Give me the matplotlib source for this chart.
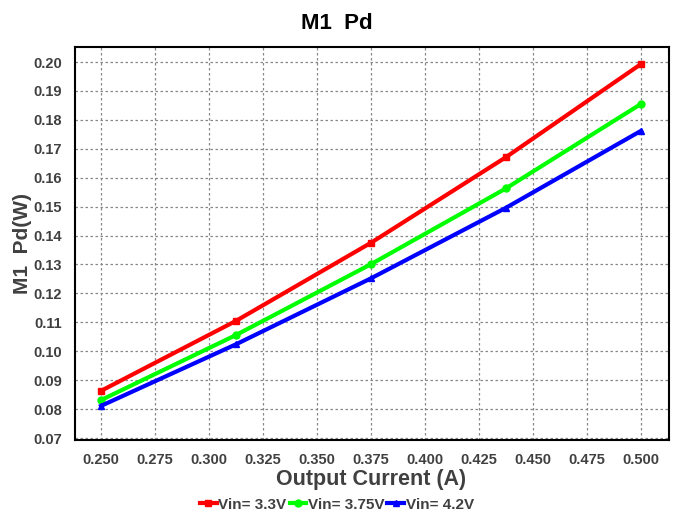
import numpy as np
import matplotlib.pyplot as plt

plt.rcParams['font.family'] = ['Liberation Sans', 'DejaVu Sans']

current = [0.25, 0.3125, 0.375, 0.4375, 0.5]
pd_33 = [0.0863, 0.1105, 0.1375, 0.1671, 0.1993]
pd_375 = [0.0831, 0.1056, 0.1301, 0.1563, 0.1855]
pd_42 = [0.0811, 0.1024, 0.1252, 0.1496, 0.1762]
labels = ['Vin= 3.3V', 'Vin= 3.75V', 'Vin= 4.2V']

txt = '#404040'

fig = plt.figure(figsize=(6.74, 5.15), dpi=100)
ax = fig.add_axes([74.5 / 674, 1 - 440 / 515, 594 / 674, 393.5 / 515])

ax.plot(current, pd_33, color='#ff0000', lw=3, marker='s', ms=5, label=labels[0], zorder=3)
ax.plot(current, pd_375, color='#00ff00', lw=3, marker='o', ms=5, label=labels[1], zorder=3)
ax.plot(current, pd_42, color='#0000ff', lw=3, marker='^', ms=5, label=labels[2], zorder=3)

ax.set_xlim(0.23773, 0.51273)
ax.set_ylim(0.06931, 0.20536)
ax.set_xticks(np.arange(0.25, 0.5001, 0.025))
ax.set_yticks(np.arange(0.07, 0.2001, 0.01))
ax.set_xticklabels(['%.3f' % v for v in np.arange(0.25, 0.5001, 0.025)])
ax.set_yticklabels(['%.2f' % v for v in np.arange(0.07, 0.2001, 0.01)])
ax.tick_params(length=0, pad=9, labelsize=10.5, labelcolor=txt)
for t in ax.get_xticklabels() + ax.get_yticklabels():
    t.set_fontweight('bold')
ax.grid(True, color='#888888', ls=(0, (2, 2)), lw=0.9)
for s in ax.spines.values():
    s.set_linewidth(1.5)

ax.set_xlabel('Output Current (A)', fontsize=15.5, fontweight='bold', color=txt, labelpad=2)
ax.set_ylabel('M1  Pd(W)', fontsize=15, fontweight='bold', color=txt, labelpad=1)
fig.suptitle('M1  Pd', x=0.5, y=1 - 13 / 515, va='top', fontsize=16, fontweight='bold')

fig.legend(loc='lower center', bbox_to_anchor=(0.5, -0.013), ncol=3, frameon=False,
           borderpad=0.15, handlelength=1.1, handletextpad=0.1, columnspacing=0.2,
           prop={'weight': 'bold', 'size': 11}, labelcolor=txt)

fig.savefig('out.png', dpi=100)
